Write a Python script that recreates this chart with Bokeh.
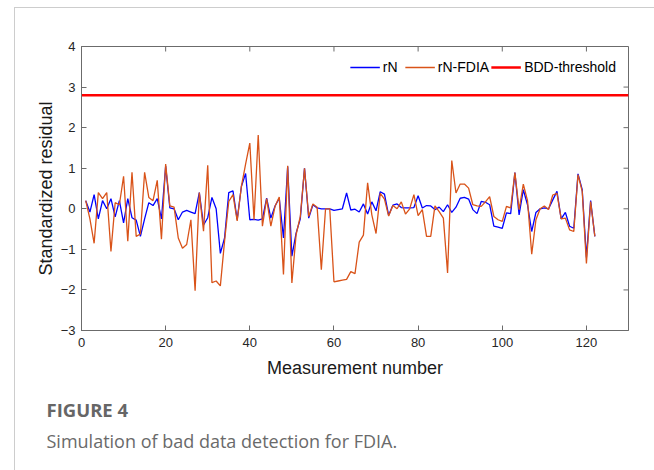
from bokeh.plotting import figure
from bokeh.models import (Range1d, FixedTicker, Legend, LegendItem, Title)
from bokeh.embed import file_html
from bokeh.resources import INLINE

# ---------------- data ----------------
measurement = list(range(1, 123))

rN = [
    0.2, -0.08, 0.35, -0.25, 0.2, 0.0, 0.25, -0.2, 0.2, -0.35,
    0.25, -0.22, -0.28, -0.68, -0.25, 0.15, 0.08, 0.25, -0.25, 1.05,
    0.02, 0.0, -0.27, -0.08, -0.04, -0.08, -0.12, 0.4, -0.4, -0.22,
    0.28, 0.0, -1.1, -0.72, 0.4, 0.44, -0.27, 0.55, 0.87, -0.27,
    -0.26, -0.28, -0.25, 0.26, -0.23, 0.07, 0.26, -0.72, 1.04, -1.17,
    -0.6, -0.25, 1.0, -0.23, 0.1, 0.02, 0.0, 0.0, 0.0, -0.04,
    -0.02, 0.0, 0.39, -0.03, -0.01, -0.08, 0.12, -0.13, 0.17, -0.05,
    0.42, 0.36, -0.16, 0.09, 0.12, 0.03, 0.02, 0.02, 0.03, 0.32,
    0.02, 0.08, 0.07, -0.02, 0.04, -0.07, 0.1, -0.09, 0.04, 0.26,
    0.28, 0.24, -0.02, -0.12, 0.18, 0.16, 0.1, -0.43, -0.45, -0.48,
    -0.1, -0.12, 0.89, -0.15, 0.47, 0.1, -0.56, -0.09, 0.0, 0.02,
    0.0, 0.22, 0.43, -0.25, -0.09, -0.43, -0.48, 0.86, 0.47, -1.2,
    0.2, -0.68,
]

rN_FDIA = [
    0.2, -0.25, -0.85, 0.4, 0.25, 0.4, -1.05, 0.15, 0.1, 0.8,
    -0.8, 0.9, -0.68, -0.62, 0.9, 0.28, 0.2, 0.7, -0.75, 1.1,
    0.07, 0.04, -0.72, -0.97, -0.88, -0.27, -2.02, 0.4, -0.55, 1.07,
    -1.82, -1.78, -1.9, -0.8, 0.18, 0.35, -0.3, 0.55, 1.1, 1.62,
    -0.27, 1.82, -0.43, 0.25, -0.43, 0.06, 0.29, -1.62, 1.06, -1.83,
    -0.64, -0.19, 1.0, -0.19, 0.12, 0.04, -1.5, 0.0, 0.0, -1.8,
    -1.78, -1.76, -1.74, -1.55, -1.6, -0.82, -0.65, 0.64, -0.15, -0.61,
    0.38, 0.24, -0.18, 0.08, 0.0, 0.17, -0.13, 0.0, 0.35, -0.17,
    -0.02, -0.68, -0.68, 0.07, -0.07, -0.23, -1.58, 1.19, 0.39, 0.61,
    0.61, 0.51, 0.1, 0.07, 0.06, 0.17, 0.3, -0.19, -0.27, -0.31,
    0.06, 0.02, 0.89, -0.02, 0.61, 0.2, -1.12, -0.27, 0.0, 0.07,
    -0.02, 0.34, 0.38, -0.25, -0.23, -0.52, -0.56, 0.84, 0.43, -1.35,
    0.18, -0.68,
]

bdd_threshold = 2.8

x_limits = (0, 130)
y_limits = (-3, 4)
x_ticks = [0, 20, 40, 60, 80, 100, 120]
y_ticks = [-3, -2, -1, 0, 1, 2, 3, 4]

series_labels = ["rN", "rN-FDIA", "BDD-threshold"]
x_label = "Measurement number"
y_label = "Standardized residual"
fig_title = "FIGURE 4"
fig_caption = "Simulation of bad data detection for FDIA."

# ---------------- figure ----------------
AX = "#6b6b6b"
FONT = "Liberation Sans"
W, H = 654, 470
B_LEFT, B_RIGHT, B_TOP, B_BOTTOM = 81, 26, 46, 140
TICK_PX = 5

frame_css = ("linear-gradient(#cdcdcd, #cdcdcd) 14px 7px / 640px 1px no-repeat, "
             "linear-gradient(#cdcdcd, #cdcdcd) 14px 7px / 1px 463px no-repeat, white")

p = figure(width=W, height=H, output_backend="svg", toolbar_location=None,
           x_range=Range1d(*x_limits), y_range=Range1d(*y_limits),
           min_border_left=B_LEFT, min_border_right=B_RIGHT,
           min_border_top=B_TOP, min_border_bottom=B_BOTTOM,
           styles={"background": frame_css})
p.grid.visible = False
p.outline_line_color = AX
p.background_fill_color = "white"
p.border_fill_color = None

for ax, ticks in ((p.xaxis[0], x_ticks), (p.yaxis[0], y_ticks)):
    ax.ticker = FixedTicker(ticks=ticks)
    ax.major_tick_in = TICK_PX
    ax.major_tick_out = 0
    ax.minor_tick_line_color = None
    ax.axis_line_color = AX
    ax.major_tick_line_color = AX
    ax.major_label_text_font = FONT
    ax.major_label_text_font_size = "13px"
    ax.major_label_text_color = "#262626"
    ax.axis_label_text_font = FONT
    ax.axis_label_text_font_size = "18px"
    ax.axis_label_text_font_style = "normal"
    ax.axis_label_text_color = "#1a1a1a"
    ax.major_label_standoff = 6

p.xaxis.major_label_standoff = 7
p.xaxis.axis_label = x_label
p.yaxis.axis_label = y_label
p.xaxis.axis_label_standoff = 8
p.yaxis.axis_label_standoff = 2

# tick marks on the top and right edges of the box (inward)
frame_w = W - B_LEFT - B_RIGHT
frame_h = H - B_TOP - B_BOTTOM
dx = TICK_PX * (x_limits[1] - x_limits[0]) / frame_w
dy = TICK_PX * (y_limits[1] - y_limits[0]) / frame_h
p.segment(x0=x_ticks, x1=x_ticks, y0=[y_limits[1]] * len(x_ticks),
          y1=[y_limits[1] - dy] * len(x_ticks), line_color=AX, line_width=1)
p.segment(x0=[x_limits[1]] * len(y_ticks), x1=[x_limits[1] - dx] * len(y_ticks),
          y0=y_ticks, y1=y_ticks, line_color=AX, line_width=1)

r_bdd = p.line(x=list(x_limits), y=[bdd_threshold, bdd_threshold],
               line_color="#ff0000", line_width=2.5)
r_rn = p.line(x=measurement, y=rN, line_color="#0000ff", line_width=1.3)
r_fdia = p.line(x=measurement, y=rN_FDIA, line_color="#d95319", line_width=1.3)

legend = Legend(items=[LegendItem(label=series_labels[0], renderers=[r_rn]),
                       LegendItem(label=series_labels[1], renderers=[r_fdia]),
                       LegendItem(label=series_labels[2], renderers=[r_bdd])],
                orientation="horizontal", location="top_right",
                border_line_alpha=0, background_fill_alpha=0,
                glyph_width=30, glyph_height=18, label_standoff=3, spacing=2,
                padding=2, margin=10, label_text_font=FONT,
                label_text_font_size="14px", label_text_color="#000000")
p.add_layout(legend)

# caption below the chart
t1 = Title(text=fig_title, align="left", offset=-35, standoff=28,
           text_font="Open Sans", text_font_size="18.5px", text_font_style="bold",
           text_color="#666666")
t2 = Title(text=fig_caption, align="left", offset=-35, standoff=-17,
           text_font="Open Sans", text_font_size="18px", text_font_style="normal",
           text_color="#6a6a6a")
p.add_layout(t1, "below")
p.add_layout(t2, "below")

open("out.html", "w").write(file_html(p, INLINE))
